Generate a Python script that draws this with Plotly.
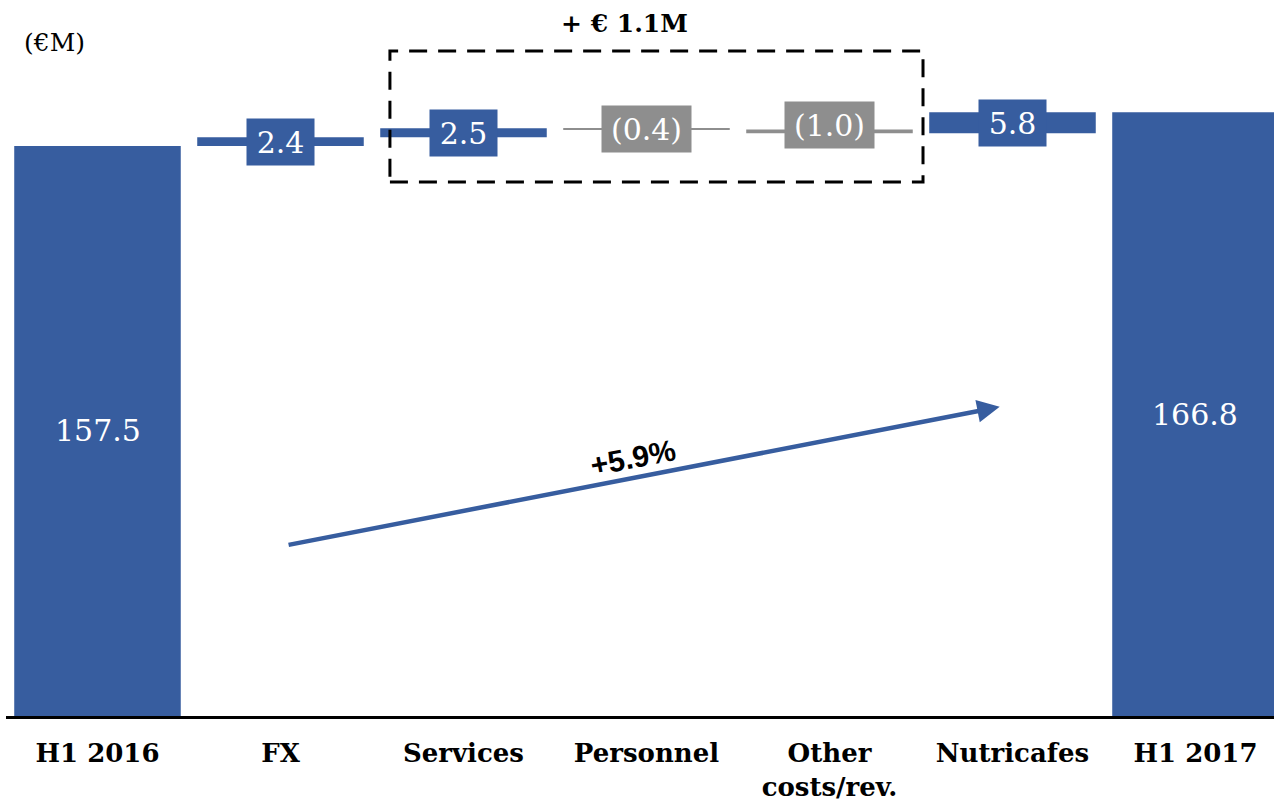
import plotly.graph_objects as go

categories = ["H1 2016", "FX", "Services", "Personnel", "Other<br>costs/rev.", "Nutricafes", "H1 2017"]
measures = ["absolute", "relative", "relative", "relative", "relative", "relative", "total"]
values = [157.5, 2.4, 2.5, -0.4, -1.0, 5.8, 0]
labels = ["157.5", "2.4", "2.5", "(0.4)", "(1.0)", "5.8", "166.8"]
unit_label = "(€M)"
bracket_label = "+ € 1.1M"
growth_label = "+5.9%"

BLUE = "#375D9F"
GRAY = "#8E8E8E"
SERIF = "DejaVu Serif"

fig = go.Figure()
fig.add_trace(go.Waterfall(
    x=list(range(len(categories))),
    measure=measures,
    y=values,
    width=0.91,
    increasing=dict(marker=dict(color=BLUE)),
    decreasing=dict(marker=dict(color=GRAY)),
    totals=dict(marker=dict(color=BLUE)),
    connector=dict(visible=False),
    hoverinfo="skip",
))

# label positions from the cumulative running total
running = 0.0
annotations = []
for i, (m, v, lab) in enumerate(zip(measures, values, labels)):
    if m == "absolute":
        lo, hi = 0, v
        running = v
    elif m == "total":
        lo, hi = 0, running
    else:
        lo, hi = running, running + v
        running += v
    mid = (lo + hi) / 2
    if m in ("absolute", "total"):
        annotations.append(dict(x=i, y=mid, xref="x", yref="y", text=lab, showarrow=False,
                                font=dict(family=SERIF, size=30, color="white")))
    else:
        col = BLUE if v > 0 else GRAY
        annotations.append(dict(x=i, y=mid, xref="x", yref="y", text=lab, showarrow=False,
                                font=dict(family=SERIF, size=30, color="white"),
                                bgcolor=col, borderpad=2, width=11 * len(lab) + 30, height=42,
                                yshift=6 if v <= -1 else 0))

# growth arrow
annotations.append(dict(x=4.93, y=85.4, ax=1.036, ay=47.2, xref="x", yref="y", axref="x", ayref="y",
                        text="", showarrow=True, arrowhead=2, arrowsize=1.0, arrowwidth=4.5,
                        arrowcolor=BLUE, standoff=0, startstandoff=0))
annotations.append(dict(x=2.926, y=71.5, xref="x", yref="y", text="<b>" + growth_label + "</b>",
                        showarrow=False, textangle=-11, xanchor="center", yanchor="middle",
                        font=dict(family="Liberation Sans", size=30, color="black")))
annotations.append(dict(x=0.0386, y=0.94, xref="paper", yref="paper", text=unit_label, showarrow=False,
                        xanchor="center", yanchor="middle",
                        font=dict(family=SERIF, size=25, color="black")))
annotations.append(dict(x=0.4874, y=0.9665, xref="paper", yref="paper", text="<b>" + bracket_label + "</b>",
                        showarrow=False, xanchor="center", yanchor="middle",
                        font=dict(family=SERIF, size=25, color="black")))

fig.add_shape(type="rect", x0=1.598, x1=4.511, y0=147.5, y1=183.7, xref="x", yref="y",
              line=dict(color="black", width=3, dash="18px,11px"), fillcolor="rgba(0,0,0,0)")

fig.update_layout(
    width=1274, height=801,
    margin=dict(l=6, r=0, t=0, b=85),
    paper_bgcolor="white", plot_bgcolor="white",
    showlegend=False,
    annotations=annotations,
    xaxis=dict(range=[-0.5, 6.429], tickvals=list(range(len(categories))), ticktext=categories,
               showline=True, linecolor="black", linewidth=2.5, showgrid=False, zeroline=False,
               ticks="outside", ticklen=12, tickcolor="rgba(0,0,0,0)",
               tickfont=dict(family=SERIF, size=26, color="black", weight="bold")),
    yaxis=dict(range=[0, 197.8], visible=False),
)

fig.write_html("out.html", config={"displayModeBar": False},
               post_script="document.body.style.margin='0';document.body.style.overflow='hidden';")
